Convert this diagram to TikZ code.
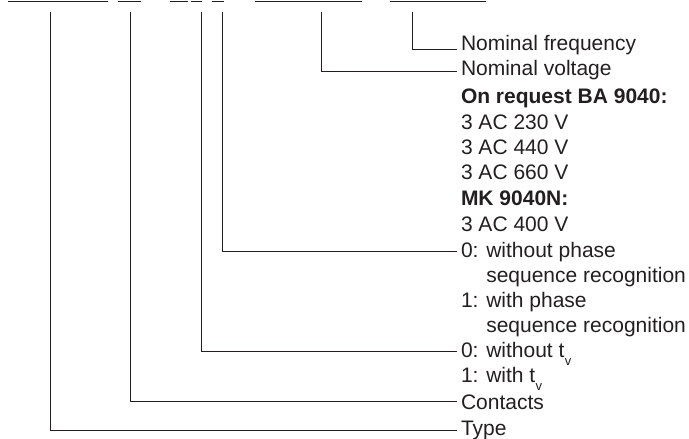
\documentclass[tikz,border=0pt]{standalone}
\usepackage{fontspec}
\setmainfont{Liberation Sans}
\definecolor{ink}{HTML}{231F20}
\newcommand\tvsub{t\kern0.3pt\raisebox{-8pt}{\fontsize{13}{13}\selectfont v}}
\begin{document}
\begin{tikzpicture}[x=1pt,y=-1pt,
  lbl/.style={anchor=base west, inner sep=0pt, outer sep=0pt, font=\fontsize{21}{25}\selectfont, text=ink},
  conn/.style={draw=ink, line width=0.95pt},
  ul/.style={draw=ink, line width=0.95pt}]
\useasboundingbox (0,0) rectangle (689,439);

% top code line (cut off by the page edge, as in the reference)
\node[lbl] (hMK)  at (8.3,-0.3)  {MK 9040N};
\node[lbl] (hCt)  at (118,-0.3)  {12};
\node[lbl] (hOpt) at (170,-0.3)  {/0};
\node[lbl] (hU)   at (255,-0.3)  {3 AC 400 V};
\node[lbl] (hF)   at (390,-0.3)  {50 / 60 Hz};
\foreach \n in {hMK,hCt,hOpt,hU,hF}
  \draw[ul] ([yshift=-1.5pt]\n.base west) -- ([yshift=-1.5pt]\n.base east);
\draw[ul] (191,1.2) -- (201.5,1.2);
\draw[ul] (212,1.2) -- (223.5,1.2);

% labels
\node[lbl] (freq)  at (461,50.7)  {Nominal frequency};
\node[lbl] (volt)  at (461,75)    {Nominal voltage};
\node[lbl,font=\fontsize{21}{25}\selectfont\bfseries] (onreq) at (461,103) {On request BA 9040:};
\node[lbl] (v230)  at (461,129)   {3 AC 230 V};
\node[lbl] (v440)  at (461,154)   {3 AC 440 V};
\node[lbl] (v660)  at (461,179.5) {3 AC 660 V};
\node[lbl,font=\fontsize{21}{25}\selectfont\bfseries] (mk) at (461,205) {MK 9040N:};
\node[lbl] (v400)  at (461,231)   {3 AC 400 V};
\node[lbl] (ph0)   at (461,257)   {0: without phase};
\node[lbl] (ph0b)  at (461,282)   {\hphantom{0: }sequence recognition};
\node[lbl] (ph1)   at (461,307)   {1: with phase};
\node[lbl] (ph1b)  at (461,332)   {\hphantom{1: }sequence recognition};
\node[lbl] (tv0)   at (461,357)   {0: without \tvsub};
\node[lbl] (tv1)   at (461,382)   {1: with \tvsub};
\node[lbl] (cont)  at (461,409)   {Contacts};
\node[lbl] (type)  at (461,435)   {Type};

% connector tops
\coordinate (cType) at (50.7,11.7);
\coordinate (cCont) at (130,11.7);
\coordinate (cTv)   at (201.7,11.7);
\coordinate (cPh)   at (222.7,11.7);
\coordinate (cVolt) at (321.7,11.7);
\coordinate (cFreq) at (412.3,11.7);

\draw[conn] (cFreq) |- ([xshift=-4.5pt,yshift=1.7pt]freq.base west);
\draw[conn] (cVolt) |- ([xshift=-4.5pt,yshift=3.3pt]volt.base west);
\draw[conn] (cPh)   |- ([xshift=-4.5pt,yshift=5.5pt]ph0.base west);
\draw[conn] (cTv)   |- ([xshift=-4.5pt,yshift=5.5pt]tv0.base west);
\draw[conn] (cCont) |- ([xshift=-4.5pt,yshift=8pt]cont.base west);
\draw[conn] (cType) |- ([xshift=-4.5pt,yshift=5pt]type.base west);
\end{tikzpicture}
\end{document}
